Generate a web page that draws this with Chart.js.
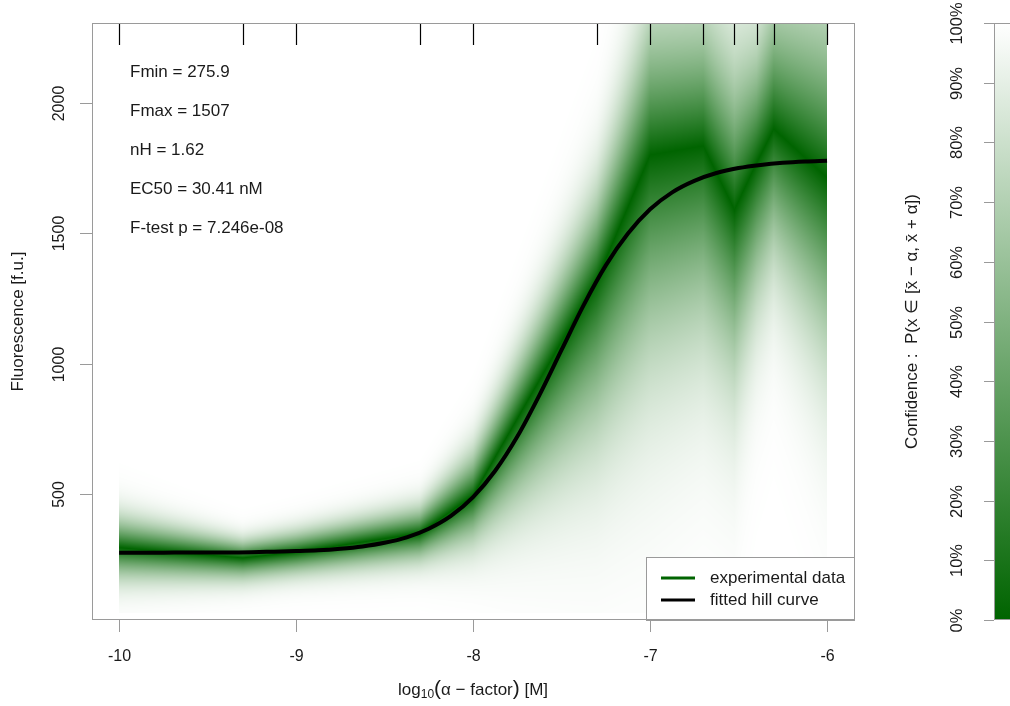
<!DOCTYPE html>
<html>
<head>
<meta charset="utf-8">
<script src="https://cdn.jsdelivr.net/npm/chart.js@4.4.1/dist/chart.umd.min.js"></script>
<style>
  html, body { margin: 0; padding: 0; background: #fff; }
  #wrap { width: 1010px; height: 706px; }
</style>
</head>
<body>
<div id="wrap"><canvas id="hillChart" width="1010" height="706"></canvas></div>
<script>
// concentrations (log10 M) of the measured points
const concLog = [-10, -9.301, -9, -8.301, -8, -7.301, -7, -6.699, -6.523, -6.398, -6.301, -6];
// measured fluorescence: centre and spread above / below
const concMean = [295, 256, 278, 350, 495, 1320, 1800, 1835, 1590, 1770, 1900, 1713];
const concSdUp = [105, 60, 70, 90, 150, 300, 470, 450, 500, 400, 450, 580];
const concSdDown = [105, 75, 75, 95, 160, 520, 680, 620, 560, 460, 430, 580];

// fitted hill curve
const curveX = [-10, -9.875, -9.75, -9.625, -9.5, -9.375, -9.25, -9.125, -9, -8.875, -8.75, -8.625, -8.5,
  -8.375, -8.25, -8.125, -8, -7.875, -7.75, -7.625, -7.5, -7.375, -7.25, -7.125, -7, -6.875, -6.75,
  -6.625, -6.5, -6.375, -6.25, -6.125, -6];
const curveY = [276, 276, 276, 277, 277, 277, 278, 280, 282, 285, 291, 300, 314,
  335, 368, 417, 489, 590, 721, 880, 1053, 1225, 1377, 1499, 1592, 1657, 1701,
  1731, 1750, 1762, 1770, 1775, 1778];

const xTicks = [-10, -9, -8, -7, -6];
const yTicks = [500, 1000, 1500, 2000];
const confTicks = [0, 10, 20, 30, 40, 50, 60, 70, 80, 90, 100];

const fitLabels = ["Fmin = 275.9", "Fmax = 1507", "nH = 1.62", "EC50 = 30.41 nM", "F-test p = 7.246e-08"];
const legendLabels = ["experimental data", "fitted hill curve"];

const GREEN = [0, 100, 0];
const FONT = '"Liberation Sans", Arial, sans-serif';
const AXIS_GREY = "#9a9a9a";
const TEXT = "#1a1a1a";

function erf(x) {
  const t = 1 / (1 + 0.3275911 * x);
  return 1 - (((((1.061405429 * t - 1.453152027) * t) + 1.421413741) * t - 0.284496736) * t + 0.254829592) * t * Math.exp(-x * x);
}

function lerpAt(xv, arr) {
  for (let i = 0; i < concLog.length - 1; i++) {
    if (xv >= concLog[i] && xv <= concLog[i + 1]) {
      const f = (xv - concLog[i]) / (concLog[i + 1] - concLog[i]);
      return arr[i] + (arr[i + 1] - arr[i]) * f;
    }
  }
  return xv < concLog[0] ? arr[0] : arr[arr.length - 1];
}

const heatmapPlugin = {
  id: "heatmap",
  beforeDatasetsDraw(chart) {
    const { ctx, scales: { x, y }, chartArea } = chart;
    const x0 = Math.round(x.getPixelForValue(concLog[0]));
    const x1 = Math.round(x.getPixelForValue(concLog[concLog.length - 1]));
    const yTop = Math.ceil(chartArea.top) + 1;
    const yBot = Math.round(y.getPixelForValue(45));
    const w = x1 - x0, h = yBot - yTop;
    const off = document.createElement("canvas");
    off.width = w; off.height = h;
    const octx = off.getContext("2d");
    const img = octx.createImageData(w, h);
    for (let c = 0; c < w; c++) {
      const xv = x.getValueForPixel(x0 + c + 0.5);
      const m = lerpAt(xv, concMean);
      const su = lerpAt(xv, concSdUp);
      const sd = lerpAt(xv, concSdDown);
      for (let r = 0; r < h; r++) {
        const yv = y.getValueForPixel(yTop + r + 0.5);
        const d = yv - m;
        const s = d > 0 ? su : sd;
        const conf = erf(Math.abs(d) / (s * Math.SQRT2));
        const k = (r * w + c) * 4;
        img.data[k] = GREEN[0] + (255 - GREEN[0]) * conf;
        img.data[k + 1] = GREEN[1] + (255 - GREEN[1]) * conf;
        img.data[k + 2] = GREEN[2] + (255 - GREEN[2]) * conf;
        img.data[k + 3] = 255;
      }
    }
    octx.putImageData(img, 0, 0);
    ctx.drawImage(off, x0, yTop);
  }
};

function rotatedText(ctx, s, cx, cy) {
  ctx.save();
  ctx.translate(cx, cy);
  ctx.rotate(-Math.PI / 2);
  ctx.fillText(s, 0, 0);
  ctx.restore();
}

const decorPlugin = {
  id: "decor",
  afterDatasetsDraw(chart) {
    const { ctx, scales: { x, y }, chartArea: a } = chart;
    ctx.save();

    // rug of measured concentrations along the top
    ctx.strokeStyle = "#000";
    ctx.lineWidth = 1.2;
    concLog.forEach((c) => {
      const px = Math.round(x.getPixelForValue(c)) + 0.5;
      ctx.beginPath();
      ctx.moveTo(px, a.top);
      ctx.lineTo(px, a.top + 22);
      ctx.stroke();
    });

    // box
    ctx.strokeStyle = AXIS_GREY;
    ctx.lineWidth = 1;
    ctx.strokeRect(Math.round(a.left) + 0.5, Math.round(a.top) + 0.5, Math.round(a.right - a.left) - 1, Math.round(a.bottom - a.top) - 1);

    // x axis
    ctx.fillStyle = TEXT;
    ctx.font = "16px " + FONT;
    ctx.textAlign = "center";
    ctx.textBaseline = "middle";
    xTicks.forEach((t) => {
      const px = Math.round(x.getPixelForValue(t)) + 0.5;
      ctx.beginPath();
      ctx.moveTo(px, a.bottom);
      ctx.lineTo(px, a.bottom + 12);
      ctx.stroke();
      ctx.fillText(String(t), px, 657);
    });

    // x title: log10(α − factor) [M]
    const mid = (x.getPixelForValue(-10) + x.getPixelForValue(-6)) / 2;
    const parts = [
      { s: "log", f: 17, dy: 0 },
      { s: "10", f: 12, dy: 5 },
      { s: "(", f: 21, dy: -1 },
      { s: "\u03b1 \u2212 factor", f: 17, dy: 0 },
      { s: ")", f: 21, dy: -1 },
      { s: " [M]", f: 17, dy: 0 },
    ];
    let total = 0;
    parts.forEach((p) => { ctx.font = p.f + "px " + FONT; p.w = ctx.measureText(p.s).width; total += p.w; });
    let sx = mid - total / 2;
    ctx.textAlign = "left";
    parts.forEach((p) => {
      ctx.font = p.f + "px " + FONT;
      ctx.fillText(p.s, sx, 690 + p.dy);
      sx += p.w;
    });

    // y axis
    ctx.font = "16px " + FONT;
    ctx.textAlign = "center";
    yTicks.forEach((t) => {
      const py = Math.round(y.getPixelForValue(t)) + 0.5;
      ctx.beginPath();
      ctx.moveTo(a.left, py);
      ctx.lineTo(a.left - 12, py);
      ctx.stroke();
      rotatedText(ctx, String(t), 60, py);
    });
    ctx.font = "17px " + FONT;
    rotatedText(ctx, "Fluorescence [f.u.]", 18, (a.top + a.bottom) / 2);

    // fit parameters
    ctx.font = "17px " + FONT;
    ctx.textAlign = "left";
    fitLabels.forEach((s, i) => ctx.fillText(s, 130, 72 + i * 39));

    // legend
    const lx = 646, ly = 557;
    ctx.fillStyle = "#fff";
    ctx.fillRect(lx, ly, a.right - lx - 1, a.bottom - ly - 1);
    ctx.strokeStyle = AXIS_GREY;
    ctx.strokeRect(lx + 0.5, ly + 0.5, a.right - lx - 1, a.bottom - ly);
    const cols = ["rgb(0,100,0)", "#000"];
    ctx.font = "17px " + FONT;
    legendLabels.forEach((s, i) => {
      const yy = ly + 21 + i * 22;
      ctx.strokeStyle = cols[i];
      ctx.lineWidth = 3;
      ctx.beginPath();
      ctx.moveTo(661, yy);
      ctx.lineTo(695, yy);
      ctx.stroke();
      ctx.fillStyle = TEXT;
      ctx.fillText(s, 710, yy);
    });

    // colour bar
    const bx = 994, bTop = a.top, bBot = a.bottom;
    const g = ctx.createLinearGradient(0, bBot, 0, bTop);
    g.addColorStop(0, "rgb(0,100,0)");
    g.addColorStop(1, "rgb(255,255,255)");
    ctx.fillStyle = g;
    ctx.fillRect(bx, bTop, 1010 - bx, bBot - bTop);
    ctx.strokeStyle = AXIS_GREY;
    ctx.lineWidth = 1;
    ctx.strokeRect(bx + 0.5, bTop + 0.5, 30, bBot - bTop - 1);
    ctx.fillStyle = TEXT;
    ctx.font = "16.5px " + FONT;
    ctx.textAlign = "center";
    confTicks.forEach((p) => {
      const py = Math.round(bBot - (bBot - bTop) * p / 100) + 0.5;
      ctx.beginPath();
      ctx.moveTo(bx, py);
      ctx.lineTo(bx - 10, py);
      ctx.stroke();
      rotatedText(ctx, p + "%", 957, py);
    });
    ctx.font = "17px " + FONT;
    rotatedText(ctx, "Confidence :  P(x \u2208 [x\u0304 \u2212 \u03b1, x\u0304 + \u03b1])", 912, (bTop + bBot) / 2);

    ctx.restore();
  }
};

new Chart(document.getElementById("hillChart"), {
  type: "scatter",
  data: {
    datasets: [
      {
        label: legendLabels[1],
        data: curveX.map((v, i) => ({ x: v, y: curveY[i] })),
        showLine: true,
        borderColor: "#000",
        borderWidth: 4,
        pointRadius: 0,
        cubicInterpolationMode: "monotone",
      },
      {
        label: legendLabels[0],
        data: [],
        borderColor: "rgb(0,100,0)",
      },
    ],
  },
  options: {
    responsive: false,
    animation: false,
    devicePixelRatio: 1,
    layout: { padding: { left: 92, top: 23, right: 155, bottom: 86 } },
    plugins: { legend: { display: false }, tooltip: { enabled: false } },
    scales: {
      x: { type: "linear", min: -10.153, max: -5.842, display: false },
      y: { type: "linear", min: 18, max: 2306, display: false },
    },
  },
  plugins: [heatmapPlugin, decorPlugin],
});
</script>
</body>
</html>
